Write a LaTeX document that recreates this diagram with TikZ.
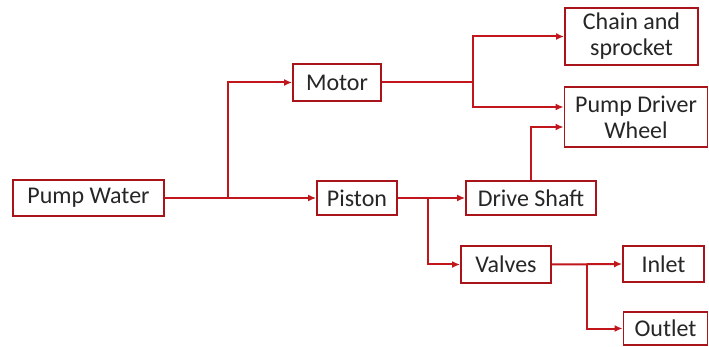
\documentclass[tikz,border=0pt]{standalone}
\usepackage{fontspec}
\setmainfont{Carlito}
\usetikzlibrary{arrows.meta,positioning}

\definecolor{linkred}{HTML}{C0161C}
\definecolor{boxred}{HTML}{A8141A}
\definecolor{textgray}{HTML}{262626}

\tikzset{
  box/.style={draw=boxred, line width=1.8pt, fill=white, inner sep=0pt,
    text=textgray, align=center, font=\fontsize{24}{26}\selectfont},
  link/.style={draw=linkred, line width=2pt, -{Latex[length=8pt,width=7pt]}},
}

\begin{document}
\begin{tikzpicture}[x=1pt,y=-1pt]

  \useasboundingbox (0,0) rectangle (709,347);

  % The boxes
  \node[box, minimum width=151pt, minimum height=36pt] (water)  at (88.5,198) {Pump Water};
  \node[box, minimum width=88pt,  minimum height=37pt] (motor)  at (337,82.5) {Motor};
  \node[box, minimum width=80pt,  minimum height=34pt] (piston) at (357,198) {Piston};
  \node[box, minimum width=130pt, minimum height=34pt] (shaft)  at (531,198) {Drive Shaft};
  \node[box, minimum width=90pt,  minimum height=37pt] (valves) at (506,264.5) {Valves};
  \node[box, minimum width=133pt, minimum height=57pt] (chain)  at (631.5,36.5) {Chain and\\sprocket};
  \node[box, minimum width=143pt, minimum height=60pt] (wheel)  at (636,117) {Pump Driver\\Wheel};
  \node[box, minimum width=81pt,  minimum height=36pt] (inlet)  at (663.5,264) {Inlet};
  \node[box, minimum width=84pt,  minimum height=33pt] (outlet) at (665.5,328.5) {Outlet};

  % Branch points
  \coordinate (split1) at (228,198);
  \coordinate (split2) at (473,82.5);
  \coordinate (split3) at (428,198);
  \coordinate (split4) at (587,264);

  % Pump water to motor and piston
  \draw[link] (water.east) -- (piston.west);
  \draw[link] (split1) |- (motor.west);

  % Motor to chain and wheel
  \draw[link] (motor.east) -- (split2) |- (chain.west);
  \draw[link] (split2) |- ([yshift=10pt]wheel.west);

  % Piston to shaft and valves
  \draw[link] (piston.east) -- (shaft.west);
  \draw[link] (split3) |- (valves.west);

  % Shaft up to wheel
  \draw[link] (shaft.north) |- ([yshift=-10pt]wheel.west);

  % Valves to inlet and outlet
  \draw[link] (valves.east) -- (inlet.west);
  \draw[link] (split4) |- (outlet.west);

\end{tikzpicture}
\end{document}
